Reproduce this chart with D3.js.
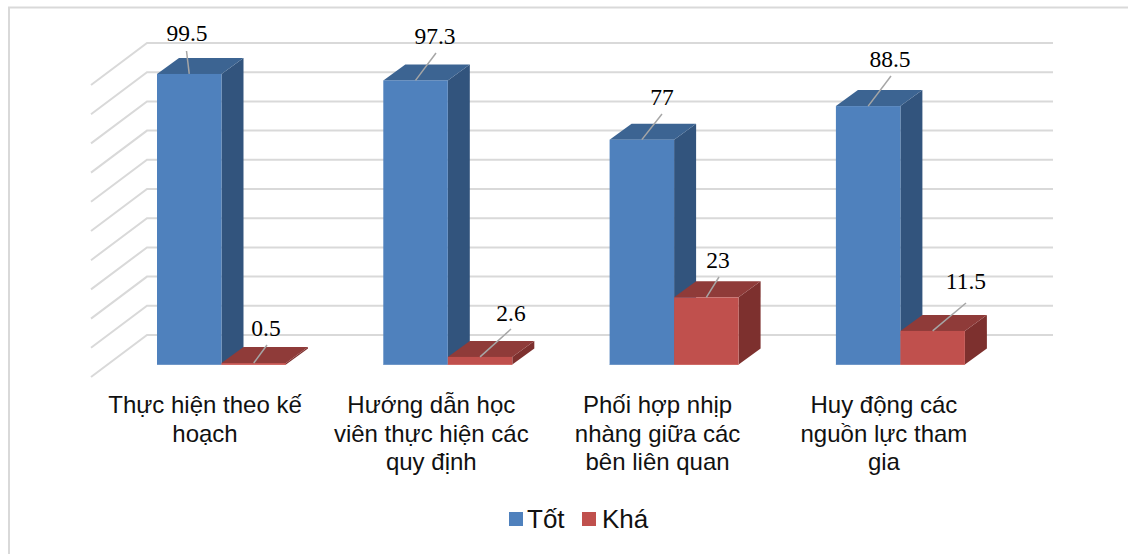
<!DOCTYPE html>
<html><head><meta charset="utf-8">
<script src="https://cdn.jsdelivr.net/npm/d3@7"></script>
<style>html,body{margin:0;padding:0;background:#fff}svg{display:block}</style>
</head><body><div id="c"></div>
<script>
const categories = ["Thực hiện theo kế hoạch","Hướng dẫn học viên thực hiện các quy định","Phối hợp nhịp nhàng giữa các bên liên quan","Huy động các nguồn lực tham gia"];
const categoryLines = [["Thực hiện theo kế","hoạch"],["Hướng dẫn học","viên thực hiện các","quy định"],["Phối hợp nhịp","nhàng giữa các","bên liên quan"],["Huy động các","nguồn lực tham","gia"]];
const seriesNames = ["Tốt","Khá"];
const tot = [99.5,97.3,77,88.5];
const kha = [0.5,2.6,23,11.5];
const ticks = d3.range(0,101,10);
// layout only
const labelCenters = {"Tốt":[[187,33],[435,36],[662,97],[890,59]],"Khá":[[266,328],[511,313],[718,260],[966,281]]};
const leaderEnds = {"Tốt":[[186.5,51],[436,53],[662,114],[891,76]],"Khá":[[267,345],[511,329],[719,277],[966,303]]};
const catLabelShift = -16.5;

const W=1128,H=554;
const svg=d3.select("#c").append("svg").attr("width",W).attr("height",H);
const serif="'Liberation Serif','Times New Roman',serif", sans="'Liberation Sans',Arial,sans-serif";
const colors={"Tốt":{f:"#4f81bd",t:"#3c6492",s:"#32547d",e:"#6f97c8"},"Khá":{f:"#c0504d",t:"#8f3b39",s:"#7d302e",e:"#cf6a66"}};

svg.append("path").attr("d",`M9,${H}V7.5H${W}`).attr("fill","none").attr("stroke","#d9d9d9").attr("stroke-width",2);

const y=d3.scaleLinear().domain([0,100]).range([364.5,72.5]);
const x0=d3.scaleBand().domain(categories).range([157,964.9]).paddingInner(0.43).paddingOuter(0);
const x1=d3.scaleBand().domain(seriesNames).range([0,x0.bandwidth()]);
const depth={dx:22,dy:-16};
const wall={dy:-29.5,left:147,right:1053,floorDx:-56,floorDy:42};

const grid=svg.append("g").attr("fill","none").attr("stroke","#d9d9d9").attr("stroke-width",2);
ticks.forEach(t=>{
  const yy=y(t)+wall.dy;
  grid.append("path").attr("d",`M${wall.left+wall.floorDx},${yy+wall.floorDy}L${wall.left},${yy}H${wall.right}`);
});

const values={"Tốt":tot,"Khá":kha};
const bars=svg.append("g");
categories.forEach((c,i)=>{
  seriesNames.forEach(s=>{
    const v=values[s][i],l=x1.bandwidth(),X=x0(c)+x1(s),Y=y(v),B=y(0),col=colors[s],dx=depth.dx,dy=depth.dy;
    const g=bars.append("g");
    g.append("path").attr("d",`M${X+l},${Y}l${dx},${dy}V${B+dy}l${-dx},${-dy}Z`).attr("fill",col.s);
    g.append("path").attr("d",`M${X},${Y}l${dx},${dy}h${l}l${-dx},${-dy}Z`).attr("fill",col.t);
    g.append("rect").attr("x",X).attr("y",Y).attr("width",l).attr("height",B-Y).attr("fill",col.f);
    g.append("path").attr("d",`M${X},${B}H${X+l}`).attr("stroke",col.e).attr("stroke-width",1);
  });
});

const lab=svg.append("g");
categories.forEach((c,i)=>{
  seriesNames.forEach(s=>{
    const v=values[s][i],X=x0(c)+x1(s)+x1.bandwidth()/2,Y=y(v);
    const e=leaderEnds[s][i],ct=labelCenters[s][i];
    lab.append("line").attr("x1",X).attr("y1",Y).attr("x2",e[0]).attr("y2",e[1]).attr("stroke","#a6a6a6").attr("stroke-width",1.5);
    lab.append("text").attr("x",ct[0]).attr("y",ct[1]+8).attr("text-anchor","middle")
      .attr("font-family",serif).attr("font-size",23.5).attr("fill","#000").text(v);
  });
  const cx=x0(c)+x0.bandwidth()/2+catLabelShift;
  categoryLines[i].forEach((t,j)=>{
    lab.append("text").attr("x",cx).attr("y",413+j*28.7).attr("text-anchor","middle")
      .attr("font-family",sans).attr("font-size",24).attr("fill","#111").text(t);
  });
});

const lg=svg.append("g"), legendX=[509,582], legendTextX=[527,602];
seriesNames.forEach((s,i)=>{
  lg.append("rect").attr("x",legendX[i]).attr("y",512).attr("width",14).attr("height",14).attr("fill",colors[s].f);
  lg.append("text").attr("x",legendTextX[i]).attr("y",528).attr("font-family",sans).attr("font-size",26).attr("fill","#111").text(s);
});
</script></body></html>
